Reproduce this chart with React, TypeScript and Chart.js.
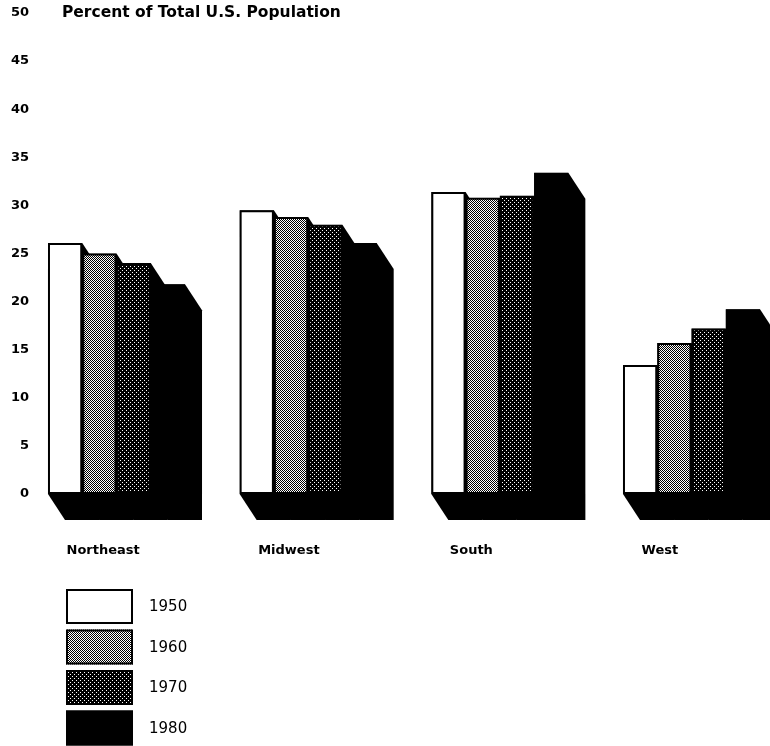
import React, { useEffect, useRef } from "react";
import { Chart, registerables } from "chart.js";

Chart.register(...registerables);

// ---- data ----
const regions = ["Northeast", "Midwest", "South", "West"];
const years = ["1950", "1960", "1970", "1980"];
const pct1950 = [26.1, 29.5, 31.4, 13.4];
const pct1960 = [25.0, 28.8, 30.8, 15.7];
const pct1970 = [24.0, 28.0, 31.0, 17.2];
const pct1980 = [21.8, 26.1, 33.4, 19.2];
const yMin = 0;
const yMax = 50;
const yStep = 5;
const titleText = "Percent of Total U.S. Population";

const FONT = '"DejaVu Sans", "Liberation Sans", sans-serif';

// ---- style constants ----
const DX = 17;
const DY = 26;

function makePattern(kind: "checker" | "dark"): CanvasPattern | string {
  const c = document.createElement("canvas");
  c.width = 4;
  c.height = 4;
  const g = c.getContext("2d");
  if (!g) return "#888";
  if (kind === "checker") {
    g.fillStyle = "#fff";
    g.fillRect(0, 0, 4, 4);
    g.fillStyle = "#000";
    for (let yy = 0; yy < 4; yy++) {
      for (let xx = 0; xx < 4; xx++) {
        if ((xx + yy) % 2 === 0) g.fillRect(xx, yy, 1, 1);
      }
    }
  } else {
    g.fillStyle = "#000";
    g.fillRect(0, 0, 4, 4);
    g.fillStyle = "#fff";
    g.fillRect(0, 0, 1, 1);
    g.fillRect(2, 2, 1, 1);
  }
  const p = g.createPattern(c, "repeat");
  return p || "#888";
}

const depthPlugin = {
  id: "depth3d",
  beforeDatasetsDraw(chart: any) {
    const ctx = chart.ctx;
    ctx.save();
    ctx.fillStyle = "#000";
    chart.data.datasets.forEach((_: any, di: number) => {
      const meta = chart.getDatasetMeta(di);
      meta.data.forEach((el: any) => {
        const { x, y, base, width } = el.getProps(["x", "y", "base", "width"], true);
        const x0 = x - width / 2;
        const x1 = x + width / 2;
        ctx.beginPath();
        ctx.moveTo(x0, y);
        ctx.lineTo(x1, y);
        ctx.lineTo(x1 + DX, y + DY);
        ctx.lineTo(x1 + DX, base + DY);
        ctx.lineTo(x0 + DX, base + DY);
        ctx.lineTo(x0, base);
        ctx.closePath();
        ctx.fill();
      });
    });
    ctx.restore();
  },
};

const legendTitlePlugin = {
  id: "legendTitle",
  afterDraw(chart: any) {
    const ctx = chart.ctx;
    const yScale = chart.scales.y;
    ctx.save();
    // title aligned with the top tick
    ctx.fillStyle = "#000";
    ctx.font = `bold 15.5px ${FONT}`;
    ctx.textAlign = "left";
    ctx.textBaseline = "middle";
    ctx.fillText(titleText, 62, yScale.getPixelForValue(yMax));

    // legend
    const LX = 66;
    const LY = 589;
    const BW = 67;
    const BH = 35;
    const STEP = 40.5;
    ctx.font = `15px ${FONT}`;
    chart.data.datasets.forEach((ds: any, i: number) => {
      const top = LY + i * STEP;
      ctx.fillStyle = ds.backgroundColor;
      ctx.fillRect(LX, top, BW, BH);
      ctx.lineWidth = 2;
      ctx.strokeStyle = "#000";
      ctx.strokeRect(LX + 1, top + 1, BW - 2, BH - 2);
      ctx.fillStyle = "#000";
      ctx.fillText(ds.label, 149, top + BH / 2 + 1);
    });
    ctx.restore();
  },
};

export default function App() {
  const ref = useRef<HTMLCanvasElement | null>(null);

  useEffect(() => {
    if (!ref.current) return;
    const fills = ["#ffffff", makePattern("checker"), makePattern("dark"), "#000000"];
    const series = [pct1950, pct1960, pct1970, pct1980];
    const chart = new Chart(ref.current, {
      type: "bar",
      data: {
        labels: regions,
        datasets: series.map((vals, i) => ({
          label: years[i],
          data: vals,
          backgroundColor: fills[i] as any,
          borderColor: "#000",
          borderWidth: 2,
          borderSkipped: false,
          categoryPercentage: 0.715,
          barPercentage: 1.0,
          clip: false as any,
        })),
      },
      options: {
        responsive: false,
        animation: false,
        layout: { padding: { top: 13, right: 78.5, bottom: 177, left: 0 } },
        plugins: {
          legend: { display: false },
          tooltip: { enabled: false },
          title: { display: false },
        },
        scales: {
          x: {
            offset: false,
            grid: { display: false, drawTicks: false },
            border: { display: false },
            ticks: {
              color: "#000",
              font: { family: FONT, size: 13, weight: "bold" },
              padding: 49,
              align: "start",
              labelOffset: -50,
              maxRotation: 0,
              autoSkip: false,
            },
            afterFit: (s: any) => {
              s.height = 75;
              s.paddingLeft = 0;
              s.paddingRight = 0;
            },
          },
          y: {
            min: yMin,
            max: yMax,
            grid: { display: false, drawTicks: false },
            border: { display: false },
            ticks: {
              stepSize: yStep,
              color: "#000",
              font: { family: FONT, size: 13, weight: "bold" },
              padding: 87.5,
            },
            afterFit: (s: any) => {
              s.width = 116.5;
              s.paddingTop = 0;
              s.paddingBottom = 0;
            },
          },
        },
      },
      plugins: [depthPlugin, legendTitlePlugin],
    });
    return () => chart.destroy();
  }, []);

  return (
    <div style={{ position: "absolute", left: 0, top: 0, width: 770, height: 746 }}>
      <canvas ref={ref} width={770} height={746} style={{ display: "block" }} />
    </div>
  );
}
